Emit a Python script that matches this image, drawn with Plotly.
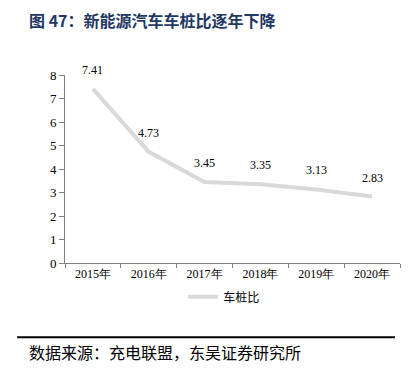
import plotly.graph_objects as go

years = ["2015年", "2016年", "2017年", "2018年", "2019年", "2020年"]
ratio = [7.41, 4.73, 3.45, 3.35, 3.13, 2.83]
y_ticks = [0, 1, 2, 3, 4, 5, 6, 7, 8]

title_text = "<b>图 47：新能源汽车车桩比逐年下降</b>"
source_text = "数据来源：充电联盟，东吴证券研究所"
series_name = "车桩比"

serif = "Liberation Serif, Times New Roman, serif"
cjk = "Noto Sans CJK SC"

fig = go.Figure()
fig.add_trace(go.Scatter(
    x=years, y=ratio, mode="lines", name=series_name,
    line=dict(color="#d9d9d9", width=4),
))

annotations = []
for xv, yv in zip(years, ratio):
    annotations.append(dict(
        x=xv, y=yv, xref="x", yref="y", text=f"{yv:.2f}",
        showarrow=False, yshift=19, yanchor="middle", xanchor="center",
        font=dict(family=serif, size=12, color="#000000"),
    ))

annotations.append(dict(
    x=-0.113, y=1.295, xref="paper", yref="paper", text=title_text,
    showarrow=False, xanchor="left", yanchor="middle",
    font=dict(family=cjk, size=16, color="#1f3864"),
))
annotations.append(dict(
    x=-0.113, y=-0.475, xref="paper", yref="paper", text=source_text,
    showarrow=False, xanchor="left", yanchor="middle",
    font=dict(family=cjk, size=16, color="#000000"),
))

fig.update_layout(
    width=408, height=368,
    margin=dict(l=57, r=16, t=67, b=113),
    paper_bgcolor="white", plot_bgcolor="white",
    showlegend=True,
    legend=dict(
        orientation="h", x=0.475, xanchor="center", y=-0.18, yanchor="middle",
        font=dict(family=cjk, size=12, color="#000000"),
        itemwidth=30,
    ),
    annotations=annotations,
    shapes=[dict(
        type="line", xref="paper", yref="paper",
        x0=-0.143, x1=0.985, y0=-0.395, y1=-0.395,
        line=dict(color="#000000", width=2),
    )],
)

fig.update_xaxes(
    type="category", showgrid=False, showline=True, linecolor="#808080", linewidth=1,
    ticks="outside", tickson="boundaries", ticklen=4, tickcolor="#808080",
    tickfont=dict(family=serif, size=12, color="#000000"),
    range=[-0.5, 5.5],
)
fig.update_yaxes(
    range=[0, 8], tickvals=y_ticks, showgrid=False, showline=True,
    linecolor="#808080", linewidth=1, ticks="outside", ticklen=5, tickcolor="#808080",
    tickfont=dict(family=serif, size=13, color="#000000"), zeroline=False,
)

fig.write_html("out.html")
